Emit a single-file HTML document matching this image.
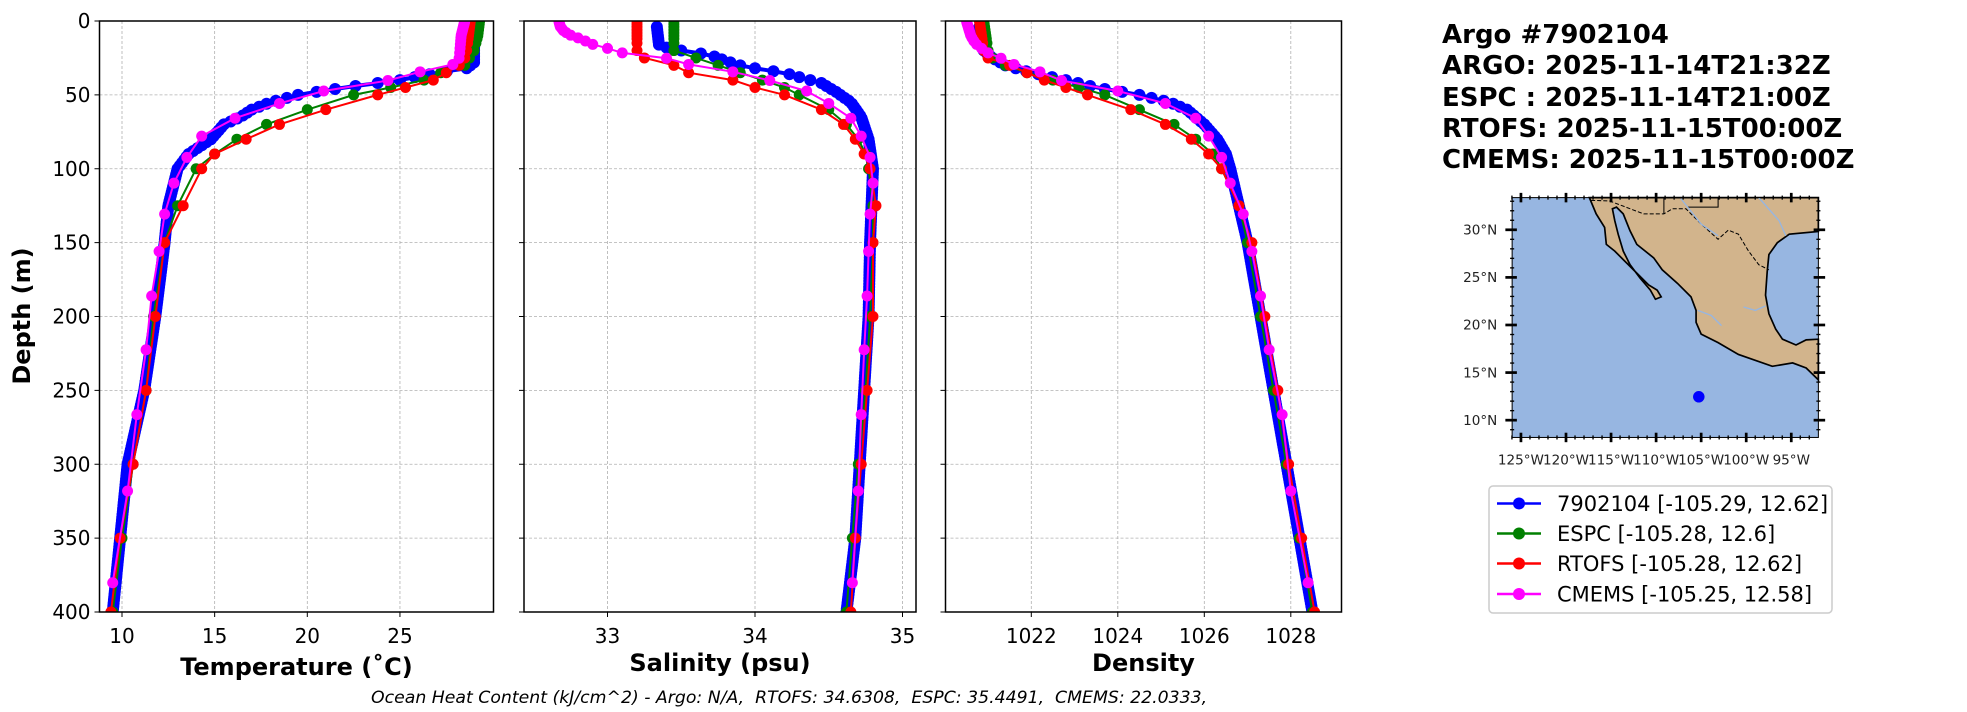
<!DOCTYPE html>
<html><head><meta charset="utf-8"><style>
html,body{margin:0;padding:0;background:#fff;}
svg{display:block;font-family:"DejaVu Sans","Liberation Sans",sans-serif;}
</style></head><body>
<svg id="s" width="1967" height="712" viewBox="0 0 1967 712" xmlns="http://www.w3.org/2000/svg">
<rect width="1967" height="712" fill="#fff"/>
<g id="plots"></g>
<g font-weight="bold" font-size="26" fill="#000">
<text x="1442" y="43">Argo #7902104</text>
<text x="1442" y="74">ARGO: 2025-11-14T21:32Z</text>
<text x="1442" y="106">ESPC : 2025-11-14T21:00Z</text>
<text x="1442" y="137">RTOFS: 2025-11-15T00:00Z</text>
<text x="1442" y="168">CMEMS: 2025-11-15T00:00Z</text>
</g>
<text x="371" y="703" font-size="17.3" font-style="italic" style="white-space:pre" xml:space="preserve">Ocean Heat Content (kJ/cm^2) - Argo: N/A,  RTOFS: 34.6308,  ESPC: 35.4491,  CMEMS: 22.0333,</text>
<g id="map"></g>
<g>
<rect x="1489" y="486" width="343" height="127" rx="4" fill="#fff" stroke="#ccc" stroke-width="1.5"/>
<g font-size="21">
<line x1="1497" y1="503.5" x2="1541" y2="503.5" stroke="#0000ff" stroke-width="2.5"/><circle cx="1519" cy="503.5" r="6" fill="#0000ff"/><text x="1557" y="511">7902104 [-105.29, 12.62]</text>
<line x1="1497" y1="533.5" x2="1541" y2="533.5" stroke="#008000" stroke-width="2.5"/><circle cx="1519" cy="533.5" r="6" fill="#008000"/><text x="1557" y="541">ESPC [-105.28, 12.6]</text>
<line x1="1497" y1="563.5" x2="1541" y2="563.5" stroke="#ff0000" stroke-width="2.5"/><circle cx="1519" cy="563.5" r="6" fill="#ff0000"/><text x="1557" y="571">RTOFS [-105.28, 12.62]</text>
<line x1="1497" y1="594" x2="1541" y2="594" stroke="#ff00ff" stroke-width="2.5"/><circle cx="1519" cy="594" r="6" fill="#ff00ff"/><text x="1557" y="601.5">CMEMS [-105.25, 12.58]</text>
</g></g>
</svg>
<script>
var NS="http://www.w3.org/2000/svg";
function el(p,t,a,txt){var e=document.createElementNS(NS,t);for(var k in a)e.setAttribute(k,a[k]);if(txt!=null)e.textContent=txt;p.appendChild(e);return e;}
var G=document.getElementById('plots');
var Y0=21,Y1=612;function yd(d){return Y0+d*(Y1-Y0)/400;}
var panels=[
 {x0:99.5,x1:493.5,f:function(v){return 122+(v-10)*18.53;},ticks:[10,15,20,25],lab:"Temperature (˚C)",ly:675,ylab:true},
 {x0:524,x1:916,f:function(v){return 755+(v-34)*147.5;},ticks:[33,34,35],lab:"Salinity (psu)",ly:671},
 {x0:945.5,x1:1341.5,f:function(v){return 1031.3+(v-1022)*43.25;},ticks:[1022,1024,1026,1028],lab:"Density",ly:671}
];
function interp(k,d){for(var i=0;i<k.length-1;i++){if(d<=k[i+1][0]){var t=(d-k[i][0])/(k[i+1][0]-k[i][0]);return k[i][1]+t*(k[i+1][1]-k[i][1]);}}return k[k.length-1][1];}
var zd=[0,2,4,6,8,10,12,15,20,25,30,35,40,45,50,60,70,80,90,100,125,150,200,250,300,350,400];
var cd=[0.5,1.5,2.6,3.8,5.1,6.4,7.9,9.6,11.4,13.5,15.8,18.5,21.6,25.2,29.4,34.4,40.3,47.4,55.8,65.8,77.9,92.3,109.7,130.7,155.9,186.1,222.5,266.4,318.1,380.2];
var ad=[];for(var d=4;d<=400;d+=2)ad.push(d);
var K={
T:{a:[[0,29],[28,29],[32,28.6],[35,27],[40,25],[45,22],[50,19.5],[55,18],[60,17],[65,16.4],[70,15.5],[80,14.8],[90,13.6],[100,13],[110,12.8],[125,12.5],[150,12.3],[200,11.8],[250,11.2],[300,10.3],[350,9.9],[400,9.5]],
 e:[[0,29.3],[10,29.2],[20,29],[30,28.5],[35,27.2],[40,26.3],[45,24.5],[50,22.5],[60,20],[70,17.8],[80,16.2],[90,15],[100,14],[125,13],[150,12.3],[200,11.7],[250,11.3],[300,10.6],[350,10],[400,9.5]],
 r:[[0,28.8],[10,28.7],[20,28.6],[25,28.5],[30,28.2],[35,27.5],[40,26.8],[45,25.3],[50,23.8],[60,21],[70,18.5],[80,16.7],[90,15],[100,14.3],[125,13.3],[150,12.3],[200,11.8],[250,11.3],[300,10.6],[350,9.9],[400,9.4]],
 c:[[0,28.5],[10,28.3],[25,28.2],[29,28],[34,26.2],[40,24.5],[47,21],[55.8,18.5],[65.8,16.1],[77.9,14.3],[92.3,13.5],[109.7,12.8],[130.7,12.3],[155.9,12],[186.1,11.6],[222.5,11.3],[266.4,10.8],[318.1,10.3],[380.2,9.5]]},
S:{a:[[0,33.33],[17,33.35],[20,33.5],[23,33.7],[27,33.8],[30,33.9],[33,34.05],[35,34.2],[38,34.3],[42,34.45],[48,34.55],[55,34.65],[65,34.72],[80,34.77],[100,34.8],[150,34.78],[200,34.77],[250,34.74],[300,34.71],[350,34.68],[400,34.62]],
 e:[[0,33.45],[20,33.45],[22,33.5],[25,33.6],[30,33.75],[35,33.9],[40,34.05],[45,34.2],[50,34.3],[60,34.5],[70,34.62],[80,34.7],[90,34.75],[100,34.77],[125,34.8],[150,34.8],[200,34.78],[250,34.75],[300,34.7],[350,34.66],[400,34.62]],
 r:[[0,33.2],[20,33.2],[25,33.25],[30,33.45],[35,33.55],[40,33.85],[45,34],[50,34.2],[60,34.45],[70,34.6],[80,34.68],[90,34.74],[100,34.78],[125,34.82],[150,34.8],[200,34.8],[250,34.76],[300,34.72],[350,34.68],[400,34.65]],
 c:[[0,32.67],[3.8,32.68],[6.4,32.7],[7.9,32.72],[9.6,32.75],[11.4,32.8],[13.5,32.85],[15.8,32.9],[18.5,33],[21.6,33.1],[25.2,33.4],[29.4,33.55],[34.4,33.85],[40.3,34.1],[47.4,34.35],[55.8,34.5],[65.8,34.65],[77.9,34.72],[92.3,34.78],[109.7,34.8],[130.7,34.78],[155.9,34.77],[186.1,34.76],[222.5,34.74],[266.4,34.72],[318.1,34.7],[380.2,34.66]]},
D:{a:[[0,1020.8],[15,1020.8],[20,1020.9],[25,1021.1],[30,1021.4],[35,1022],[40,1022.8],[45,1023.5],[50,1024.5],[55,1025.2],[60,1025.6],[70,1026],[80,1026.3],[90,1026.5],[100,1026.6],[125,1026.8],[150,1027],[200,1027.3],[250,1027.6],[300,1027.9],[350,1028.2],[400,1028.5]],
 e:[[0,1020.9],[20,1021],[25,1021.1],[30,1021.4],[35,1021.9],[40,1022.5],[45,1023.1],[50,1023.7],[60,1024.5],[70,1025.3],[80,1025.8],[90,1026.2],[100,1026.4],[125,1026.8],[150,1027],[200,1027.3],[250,1027.6],[300,1027.9],[350,1028.2],[400,1028.5]],
 r:[[0,1020.8],[20,1020.9],[25,1021],[30,1021.5],[35,1021.9],[40,1022.3],[45,1022.8],[50,1023.3],[60,1024.3],[70,1025.1],[80,1025.7],[90,1026.1],[100,1026.4],[125,1026.8],[150,1027.1],[200,1027.4],[250,1027.7],[300,1027.95],[350,1028.25],[400,1028.55]],
 c:[[0,1020.5],[5,1020.55],[10,1020.6],[15,1020.7],[18.5,1020.85],[21.6,1021],[25.2,1021.3],[29.4,1021.6],[34.4,1022.2],[40.3,1022.7],[47.4,1024],[55.8,1025.1],[65.8,1025.8],[77.9,1026.1],[92.3,1026.4],[109.7,1026.6],[130.7,1026.9],[155.9,1027.1],[186.1,1027.3],[222.5,1027.5],[266.4,1027.8],[318.1,1028],[380.2,1028.4]]}
};
var keys=['T','S','D'];
var defs=el(G,'defs',{});
panels.forEach(function(p,i){
 var cp=el(defs,'clipPath',{id:'c'+i});el(cp,'rect',{x:p.x0,y:Y0,width:p.x1-p.x0,height:Y1-Y0});
 for(var d=0;d<=400;d+=50){el(G,'line',{x1:p.x0,x2:p.x1,y1:yd(d),y2:yd(d),stroke:'#b0b0b0','stroke-width':0.8,'stroke-dasharray':'3,2'});
  el(G,'line',{x1:p.x0-5,x2:p.x0,y1:yd(d),y2:yd(d),stroke:'#000','stroke-width':1});
  if(p.ylab)el(G,'text',{x:p.x0-9,y:yd(d)+7,'font-size':20,'text-anchor':'end'},d);}
 p.ticks.forEach(function(t){var x=p.f(t);el(G,'line',{x1:x,x2:x,y1:Y0,y2:Y1,stroke:'#b0b0b0','stroke-width':0.8,'stroke-dasharray':'3,2'});
  el(G,'line',{x1:x,x2:x,y1:Y1,y2:Y1+5,stroke:'#000','stroke-width':1});
  el(G,'text',{x:x,y:Y1+31,'font-size':20,'text-anchor':'middle'},t);});
 el(G,'text',{x:(p.x0+p.x1)/2,y:p.ly,'font-size':24,'font-weight':'bold','text-anchor':'middle'},p.lab);
 var g=el(G,'g',{'clip-path':'url(#c'+i+')'});
 var k=K[keys[i]];
 var ser=[['a','#0000ff',ad,4,6],['e','#008000',zd,2,5.5],['r','#ff0000',zd,2,5.5],['c','#ff00ff',cd,2,5.5]];
 ser.forEach(function(s){var pts=s[2].map(function(d){return [p.f(interp(k[s[0]],d)),yd(d)];});
  el(g,'polyline',{points:pts.map(function(q){return q[0].toFixed(1)+','+q[1].toFixed(1);}).join(' '),fill:'none',stroke:s[1],'stroke-width':s[3]});
  pts.forEach(function(q){el(g,'circle',{cx:q[0],cy:q[1],r:s[4],fill:s[1]});});});
 el(G,'rect',{x:p.x0,y:Y0,width:p.x1-p.x0,height:Y1-Y0,fill:'none',stroke:'#000','stroke-width':1.5});
});
el(G,'text',{x:0,y:0,'font-size':24,'font-weight':'bold','text-anchor':'middle',transform:'translate(30,316) rotate(-90)'},'Depth (m)');
var M=el(document.getElementById('map'),'g',{transform:'translate(1420,180) scale(0.33875)'});
el(M,'rect',{x:272,y:52,width:904,height:708,fill:'#97b6e1'});
el(M,'path',{d:'M500,52 L520,100 545,140 550,190 575,210 600,235 640,275 675,310 700,325 712,345 695,352 680,325 650,290 620,250 600,210 585,160 575,120 568,85 580,80 600,100 620,150 640,190 690,230 715,265 760,305 800,345 815,385 815,420 830,455 880,480 940,515 1040,550 1100,540 1140,555 1176,590 1176,470 1140,472 1110,487 1070,470 1050,440 1030,395 1020,340 1025,270 1030,220 1055,185 1090,160 1176,152 1176,52 Z',fill:'#d2b48c',stroke:'#000','stroke-width':5});
el(M,'path',{d:'M505,60 L560,62 660,100 720,100 745,85 785,85 830,130 880,175 910,148 940,160 970,210 1000,250 1030,265',fill:'none',stroke:'#000','stroke-width':3,'stroke-dasharray':'12,6'});
el(M,'path',{d:'M720,52 V100 M880,52 V80 H790',fill:'none',stroke:'#000','stroke-width':3});
el(M,'path',{d:'M770,55 L830,130 880,165 M1000,52 L1060,120 1080,165 M955,375 L990,385 1020,372 M820,385 L860,400 890,430',fill:'none',stroke:'#97b6e1','stroke-width':4});
el(M,'circle',{cx:823,cy:640,r:17,fill:'#0000ff'});
el(M,'rect',{x:272,y:52,width:904,height:708,fill:'none',stroke:'#000','stroke-width':3});
for(var la=9;la<=33;la++){var y=709-(la-10)*28.1;var maj=la%5==0;var L=maj?28:12;
 el(M,'line',{x1:272-L/2-(maj?6:0),x2:272+L/2,y1:y,y2:y,stroke:'#000','stroke-width':maj?8:4});
 el(M,'line',{x1:1176-L/2,x2:1176+L/2+(maj?6:0),y1:y,y2:y,stroke:'#000','stroke-width':maj?8:4});
 if(maj&&la>=10&&la<=30)el(M,'text',{x:228,y:y+14,'font-size':40,'text-anchor':'end',fill:'#222'},la+'°N');}
for(var lo=-126;lo<=-93;lo++){var x=298+(lo+125)*26.6;var maj=lo%5==0;var L=maj?28:12;
 el(M,'line',{x1:x,x2:x,y1:52-L/2,y2:52+L/2,stroke:'#000','stroke-width':maj?8:4});
 el(M,'line',{x1:x,x2:x,y1:760-L/2,y2:760+L/2,stroke:'#000','stroke-width':maj?8:4});
 if(maj)el(M,'text',{x:x,y:840,'font-size':40,'text-anchor':'middle',fill:'#222'},(-lo)+'°W');}
</script>
</body></html>
